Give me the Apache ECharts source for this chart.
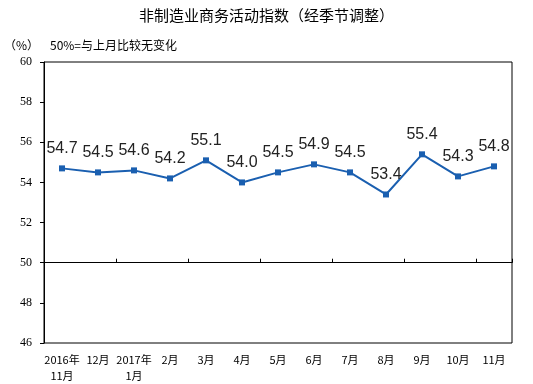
<!DOCTYPE html>
<html><head><meta charset="utf-8">
<script src="https://cdn.jsdelivr.net/npm/echarts@6/dist/echarts.min.js"></script>
<style>html,body{margin:0;padding:0;background:#fff}#c{width:533px;height:384px}</style>
</head><body><div id="c"></div>
<script>
var categories = ['2016年\n11月','12月','2017年\n1月','2月','3月','4月','5月','6月','7月','8月','9月','10月','11月'];
var values = [54.7,54.5,54.6,54.2,55.1,54.0,54.5,54.9,54.5,53.4,55.4,54.3,54.8];
var yMin = 46, yMax = 60, yStep = 2, baseLine = 50;
var gridTop = 62, gridBottom = 41, gridLeft = 44, gridRight = 21;
var chart = echarts.init(document.getElementById('c'));
var gridH = 384 - gridTop - gridBottom;
chart.setOption({
  animation:false,
  title:{text:'非制造业商务活动指数（经季节调整）',left:'center',top:3,
    textStyle:{fontFamily:'Noto Sans CJK SC',fontSize:15,fontWeight:'normal',color:'#000'}},
  graphic:[
    {type:'text',left:4,top:39,style:{text:'（%）',font:'12px "Noto Sans CJK SC"',fill:'#000'}},
    {type:'text',left:50,top:39,style:{text:'50%=与上月比较无变化',font:'12px "Noto Sans CJK SC"',fill:'#000'}}
  ],
  grid:{left:gridLeft,right:gridRight,top:gridTop,bottom:gridBottom,show:true,borderColor:'#000',borderWidth:1},
  xAxis:[{type:'category',data:categories,boundaryGap:true,
    axisLine:{show:false},axisTick:{show:false},
    axisLabel:{interval:0,margin:9,fontFamily:'Noto Sans CJK SC',fontSize:11,color:'#000',lineHeight:16}},
    {type:'category',data:categories,boundaryGap:true,position:'bottom',
     offset:-(baseLine-yMin)/(yMax-yMin)*gridH,
     axisLine:{show:true,lineStyle:{color:'#000',width:1}},
     axisTick:{show:true,inside:true,length:4,lineStyle:{color:'#000'}},
     axisLabel:{show:false}}],
  yAxis:{type:'value',min:yMin,max:yMax,interval:yStep,
    axisLine:{show:true,lineStyle:{color:'#000'}},
    axisTick:{show:true,length:4,lineStyle:{color:'#000'}},
    splitLine:{show:false},
    axisLabel:{margin:12,fontFamily:'Liberation Serif',fontSize:12,color:'#000'}},
  series:[{type:'line',data:values,symbol:'rect',symbolSize:6,
    lineStyle:{color:'#1a5fb0',width:2},itemStyle:{color:'#1a5fb0'},
    label:{show:true,position:'top',distance:9,fontFamily:'Liberation Sans',fontSize:16,color:'#222',
      formatter:function(p){return p.value.toFixed(1);}}}]
});
</script></body></html>
